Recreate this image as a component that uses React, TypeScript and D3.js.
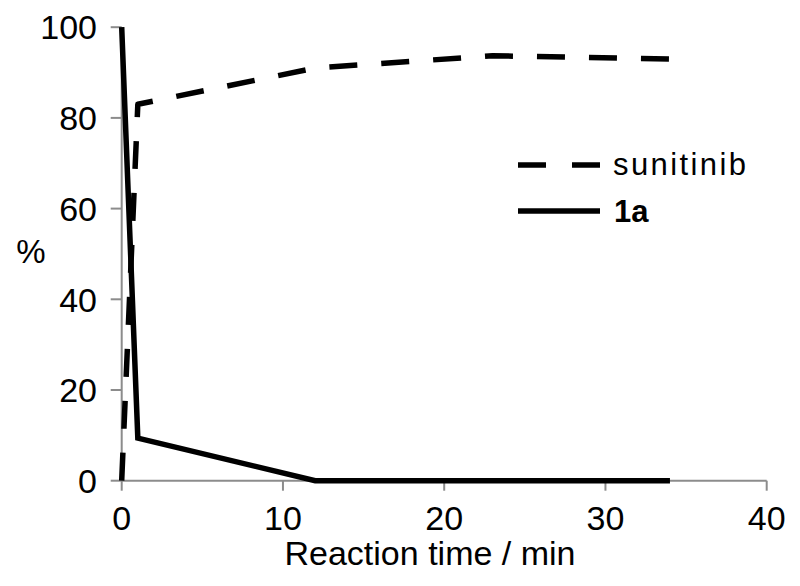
import React from 'react';
import * as d3 from 'd3';

// reaction time (min)
const times = [0, 1, 12, 23, 34];
const sunitinib = [0, 83, 91, 93.7, 93];
const compound1a = [100, 9.4, 0, 0, 0];

const xTicks = [0, 10, 20, 30, 40];
const yTicks = [0, 20, 40, 60, 80, 100];

const seriesNames = ['sunitinib', '1a'];

const W = 800;
const H = 586;
const FONT = '"Liberation Sans", Arial, Helvetica, sans-serif';

export default function App() {
  const x = d3.scaleLinear().domain([0, 40]).range([121.7, 766.7]);
  const y = d3.scaleLinear().domain([0, 100]).range([480.7, 27.2]);

  const line = d3
    .line<[number, number]>()
    .x(d => x(d[0]))
    .y(d => y(d[1]));

  const sunPts = times.map((t, i) => [t, sunitinib[i]] as [number, number]);
  const aPts = times.map((t, i) => [t, compound1a[i]] as [number, number]);

  const axisColor = '#8c8c8c';

  return (
    <svg
      width={W}
      height={H}
      style={{ position: 'absolute', left: 0, top: 0, background: '#fff' }}
      fontFamily={FONT}
    >
      <rect width={W} height={H} fill="#fff" />

      {/* axes */}
      <line x1={x(0)} x2={x(0)} y1={y(0)} y2={y(100)} stroke={axisColor} strokeWidth={2} />
      <line x1={x(0)} x2={x(40)} y1={y(0)} y2={y(0)} stroke={axisColor} strokeWidth={2} />

      {yTicks.map(t => (
        <g key={'y' + t}>
          <line x1={x(0) - 11} x2={x(0)} y1={y(t)} y2={y(t)} stroke={axisColor} strokeWidth={2} />
          <text x={97} y={y(t)} dy="0.36em" textAnchor="end" fontSize={34} fill="#000">
            {t}
          </text>
        </g>
      ))}

      {xTicks.map(t => (
        <g key={'x' + t}>
          <line x1={x(t)} x2={x(t)} y1={y(0)} y2={y(0) + 10} stroke={axisColor} strokeWidth={2} />
          <text x={x(t)} y={530} textAnchor="middle" fontSize={34} fill="#000">
            {t}
          </text>
        </g>
      ))}

      <text x={430} y={565} textAnchor="middle" fontSize={34} fill="#000">
        Reaction time / min
      </text>
      <text x={31} y={263} textAnchor="middle" fontSize={33} fill="#000">
        %
      </text>

      {/* series */}
      <path
        d={line(sunPts) || ''}
        fill="none"
        stroke="#000"
        strokeWidth={5.5}
        strokeDasharray="28 24"
        strokeLinejoin="round"
      />
      <path d={line(aPts) || ''} fill="none" stroke="#000" strokeWidth={5.5} strokeLinejoin="miter" />

      {/* legend */}
      <line x1={518} x2={600} y1={165} y2={165} stroke="#000" strokeWidth={5.5} strokeDasharray="28 26" />
      <text x={613} y={175} fontSize={31} letterSpacing={2.4} fill="#000">
        {seriesNames[0]}
      </text>
      <line x1={518} x2={600} y1={211} y2={211} stroke="#000" strokeWidth={5.5} />
      <text x={614} y={222} fontSize={31} fontWeight="bold" fill="#000">
        {seriesNames[1]}
      </text>
    </svg>
  );
}
